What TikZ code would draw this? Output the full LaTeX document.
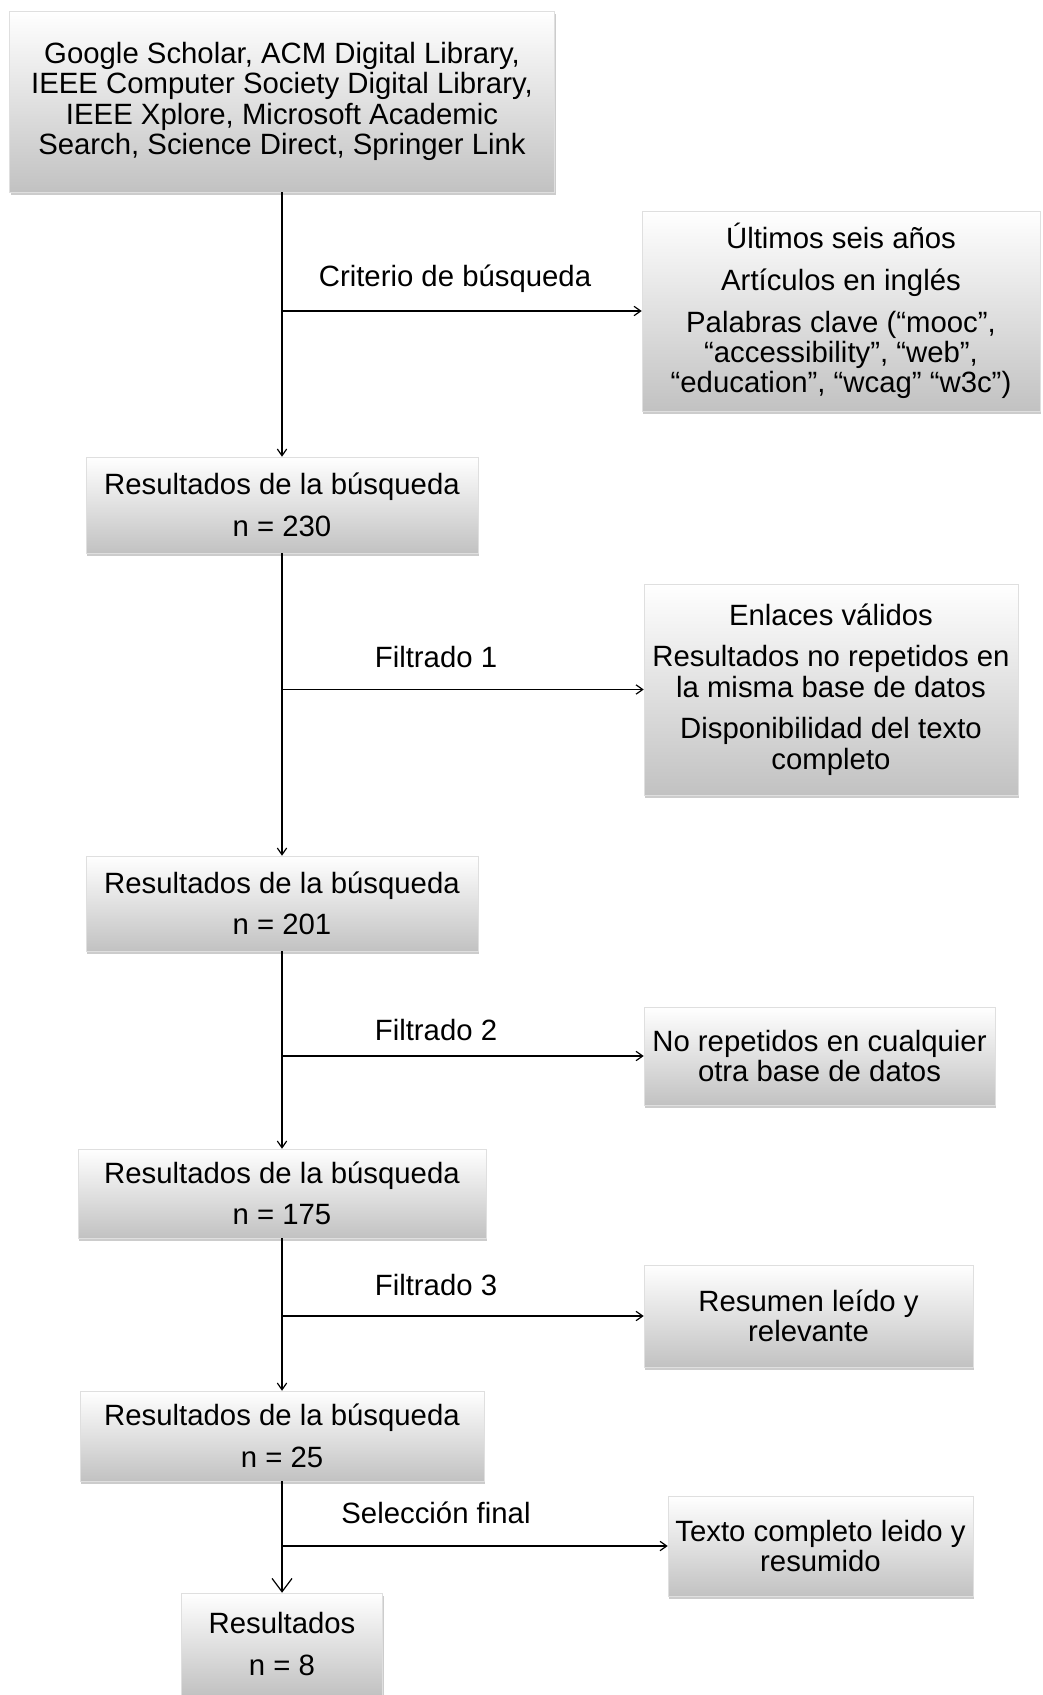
\documentclass[tikz,border=0pt]{standalone}
\usepackage{fontspec}
\setmainfont{Liberation Sans}
\usetikzlibrary{arrows.meta,shadows}
\begin{document}
\begin{tikzpicture}[x=0.75pt,y=-0.75pt,
 box/.style={rectangle, top color=white, bottom color=gray!48, draw=gray!25, line width=0.4pt,
   align=center, inner sep=0pt, font=\fontsize{22}{22.7}\selectfont,
   drop shadow={shadow xshift=1pt, shadow yshift=-2.5pt, fill=gray!80, opacity=0.5}},
 lbl/.style={font=\fontsize{22}{22.7}\selectfont, inner sep=0pt},
 conn/.style={line width=0.9pt, -{Straight Barb[length=5pt,width=7pt]}}
]
\useasboundingbox (0,0) rectangle (1042,1695);

\node[box, minimum width=408.75pt, minimum height=135.75pt] (top) at (282,101.5)
 {Google Scholar, ACM Digital Library,\\IEEE Computer Society Digital Library,\\IEEE Xplore, Microsoft Academic\\Search, Science Direct, Springer Link};

\node[box, minimum width=298.5pt, minimum height=150pt] (crit) at (841,311)
 {Últimos seis años\\[8.5pt]Artículos en inglés\\[8.5pt]Palabras clave (“mooc”,\\“accessibility”, “web”,\\“education”, “wcag” “w3c”)};

\node[box, minimum width=294pt, minimum height=72pt] (r1) at (282,505)
 {Resultados de la búsqueda\\[8.5pt]n = 230};

\node[box, minimum width=280.5pt, minimum height=158.25pt] (f1) at (831,689.5)
 {Enlaces válidos\\[8.5pt]Resultados no repetidos en\\la misma base de datos\\[8.5pt]Disponibilidad del texto\\completo};

\node[box, minimum width=294pt, minimum height=71.25pt] (r2) at (282,903.5)
 {Resultados de la búsqueda\\[8.5pt]n = 201};

\node[box, minimum width=263.25pt, minimum height=73.5pt] (f2) at (819.5,1056)
 {No repetidos en cualquier\\otra base de datos};

\node[box, minimum width=306pt, minimum height=66.75pt] (r3) at (282,1193.5)
 {Resultados de la búsqueda\\[8.5pt]n = 175};

\node[box, minimum width=246.75pt, minimum height=76.5pt] (f3) at (808.5,1316)
 {Resumen leído y\\relevante};

\node[box, minimum width=303pt, minimum height=67.5pt] (r4) at (282,1436)
 {Resultados de la búsqueda\\[8.5pt]n = 25};

\node[box, minimum width=228.75pt, minimum height=75pt] (sf) at (820.5,1546)
 {Texto completo leido y\\resumido};

\node[box, minimum width=150.75pt, minimum height=76.5pt] (fin) at (282,1644)
 {Resultados\\[8.5pt]n = 8};

\node[lbl] (l0) at (455,279) {Criterio de búsqueda};
\node[lbl] (l1) at (436,657) {Filtrado 1};
\node[lbl] (l2) at (436,1030) {Filtrado 2};
\node[lbl] (l3) at (436,1285) {Filtrado 3};
\node[lbl] (l4) at (436,1513) {Selección final};

\draw[conn] (top.south) |- (crit.west);
\draw[conn] (top.south) -- (r1.north);
\draw[conn] (r1.south) |- (f1.west);
\draw[conn] (r1.south) -- (r2.north);
\draw[conn] (r2.south) |- (f2.west);
\draw[conn] (r2.south) -- (r3.north);
\draw[conn] (r3.south) |- (f3.west);
\draw[conn] (r3.south) -- (r4.north);
\draw[conn] (r4.south) |- (sf.west);
\draw[line width=0.9pt, -{Straight Barb[length=10pt,width=15pt]}] (r4.south) -- (fin.north);
\end{tikzpicture}
\end{document}
